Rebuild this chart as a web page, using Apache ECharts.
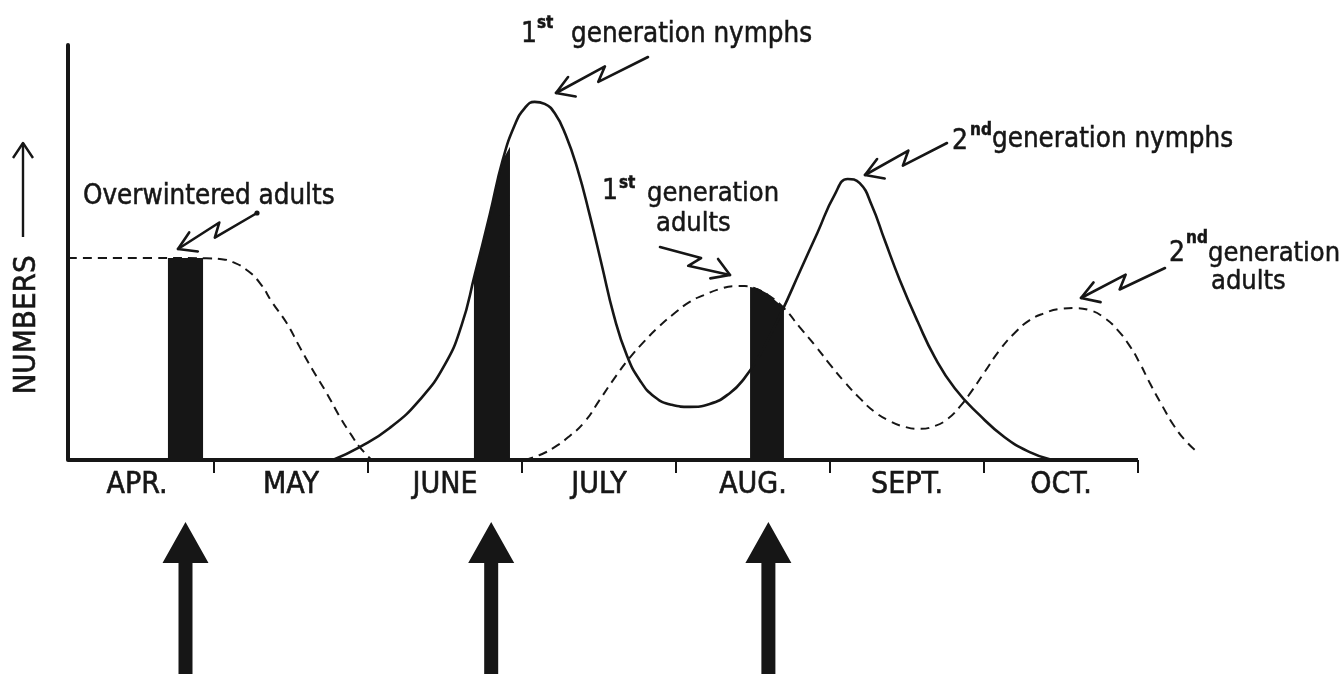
<!DOCTYPE html>
<html><head><meta charset="utf-8">
<script src="https://cdn.jsdelivr.net/npm/echarts@6/dist/echarts.min.js"></script>
<style>html,body{margin:0;padding:0;background:#fff}#c{width:1342px;height:674px}</style>
</head><body><div id="c"></div>
<script>
// ---- data (x in months counted from 1 April, y in relative numbers) ----
const months = ['APR.', 'MAY', 'JUNE', 'JULY', 'AUG.', 'SEPT.', 'OCT.'];
const monthBoundaries = [1, 2, 3, 4, 5, 6, 7];
const monthCentres = [0.5, 1.5, 2.5, 3.5, 4.5, 5.5, 6.5];
const overwinteredAdults = [[0.052,48.7],[0.6,48.7],[0.95,48.6],[1.050,48.4],[1.122,47.7],[1.212,45.8],[1.297,42.7],[1.381,37.8],[1.472,33.0],[1.557,27.2],[1.641,21.7],[1.732,16.1],[1.817,10.4],[1.901,5.5],[1.946,3.1],[2.024,0]];
const nymphs = [[1.771,0],[1.946,3.1],[2.141,7.7],[2.336,14.5],[2.498,22.9],[2.608,32.5],[2.693,44.6],[2.790,59.0],[2.875,72.3],[2.953,80.7],[3.018,84.8],[3.082,86.3],[3.147,85.8],[3.212,83.6],[3.284,78.3],[3.362,69.9],[3.440,59.0],[3.518,47.0],[3.596,34.9],[3.680,25.3],[3.764,19.3],[3.862,15.2],[3.972,13.3],[4.089,12.8],[4.219,13.5],[4.349,16.1],[4.446,19.8],[4.544,25.3],[4.686,35.7],[4.803,45.3],[4.920,54.9],[5.030,63.9],[5.115,67.7],[5.193,66.7],[5.271,61.4],[5.355,53.0],[5.453,43.4],[5.570,33.3],[5.680,24.8],[5.810,17.3],[5.972,10.8],[6.134,5.5],[6.297,1.9],[6.427,0.2]];
const adults = [[3.016,0],[3.115,1.2],[3.212,3.1],[3.310,5.8],[3.407,9.2],[3.505,14.5],[3.602,19.8],[3.699,24.6],[3.797,28.7],[3.894,32.3],[3.992,35.4],[4.089,38.1],[4.186,39.8],[4.284,41.2],[4.381,41.9],[4.446,41.9],[4.511,41.4],[4.608,39.5],[4.706,36.4],[4.803,32.0],[4.901,27.7],[4.998,23.1],[5.095,18.8],[5.193,14.9],[5.290,11.6],[5.388,9.4],[5.485,8.0],[5.583,7.5],[5.680,8.2],[5.764,9.9],[5.842,12.8],[5.920,16.6],[6.004,21.2],[6.102,26.5],[6.199,30.6],[6.297,33.7],[6.394,35.4],[6.491,36.4],[6.589,36.6],[6.686,36.1],[6.784,34.2],[6.868,31.3],[6.946,27.5],[7.011,23.4],[7.076,18.6],[7.154,13.3],[7.238,8.0],[7.322,4.1],[7.387,1.9]];
const sampleBar1 = [[0.701,48.7],[0.929,48.7]];
const sampleBar2 = [[2.688,44.2],[2.790,59.0],[2.875,72.3],[2.922,75.5]];
const sampleBar3 = [[4.481,41.7],[4.530,41.4],[4.591,40.2],[4.701,36.6]];
const sampleTimes = [0.815, 2.80, 4.60];
const baseline = [[0.052,0],[7.0,0]];

// ---- style / layout ----
const INK = '#161616';
const FONT = "'DejaVu Sans Condensed', 'DejaVu Sans', sans-serif";

const chart = echarts.init(document.getElementById('c'), null, {renderer: 'canvas'});

function barSeries(d) {
  return {type: 'line', data: d, smooth: false, showSymbol: false, clip: false, z: 2,
    lineStyle: {width: 0, opacity: 0}, areaStyle: {color: INK, opacity: 1}, silent: true};
}

chart.setOption({
  animation: false,
  backgroundColor: '#fff',
  grid: {left: 68, top: 45, width: 7.4 * 154, height: 415},
  xAxis: {
    type: 'value', min: 0.052, max: 7.452,
    axisLine: {show: false},
    splitLine: {show: false},
    axisTick: {show: true, customValues: monthBoundaries, length: 13, lineStyle: {color: INK, width: 2}},
    axisLabel: {show: true, customValues: monthCentres, margin: 10, hideOverlap: false,
      formatter: v => months[Math.round(v - 0.5)], color: INK, fontFamily: FONT, fontSize: 30,
      textBorderColor: INK, textBorderWidth: 0.6}
  },
  yAxis: {
    type: 'value', min: 0, max: 100,
    axisLine: {show: true, lineStyle: {color: INK, width: 4}},
    axisTick: {show: false}, axisLabel: {show: false}, splitLine: {show: false}
  },
  series: [
    barSeries(sampleBar1), barSeries(sampleBar2), barSeries(sampleBar3),
    {type: 'line', data: overwinteredAdults, smooth: 0.5, showSymbol: false, clip: false, z: 3,
      lineStyle: {color: INK, width: 2, type: [9, 6]}},
    {type: 'line', data: adults, smooth: 0.5, showSymbol: false, clip: false, z: 3,
      lineStyle: {color: INK, width: 2, type: [9, 6]}},
    {type: 'line', data: nymphs, smooth: 0.5, showSymbol: false, clip: false, z: 4,
      lineStyle: {color: INK, width: 2.6}},
    {type: 'line', data: baseline, showSymbol: false, clip: false, z: 5,
      lineStyle: {color: INK, width: 4}}
  ]
});

// ---- annotations (pixel layout) ----
const texts = [
  {t: 'Overwintered adults', x: 83, y: 196.6, s: 27.5},
  {t: '1', x: 529, y: 34.6, s: 28, a: 'center'},
  {t: 'st', x: 537, y: 23.2, s: 17},
  {t: 'generation nymphs', x: 571, y: 34.6, s: 27.5},
  {t: '1', x: 610, y: 191.6, s: 28, a: 'center'},
  {t: 'st', x: 619, y: 183.2, s: 17},
  {t: 'generation', x: 647, y: 193.6, s: 27},
  {t: 'adults', x: 656, y: 223.6, s: 27},
  {t: '2', x: 952, y: 141.6, s: 28},
  {t: 'nd', x: 970, y: 130.2, s: 17},
  {t: 'generation nymphs', x: 992, y: 139.6, s: 27.5},
  {t: '2', x: 1169, y: 253.6, s: 28},
  {t: 'nd', x: 1186, y: 238.2, s: 17},
  {t: 'generation', x: 1208, y: 253.6, s: 27},
  {t: 'adults', x: 1211, y: 281.6, s: 27}
];
const bolts = [
  {T: [257, 213], H: [178, 249], dot: true},
  {T: [648, 57], H: [556, 93]},
  {T: [660, 247], H: [730, 275]},
  {T: [947, 143], H: [865, 175]},
  {T: [1165, 268], H: [1081, 298]}
];

const g = [];
texts.forEach(o => g.push({type: 'text', x: o.x, y: o.y, z: 10, style: {
  text: o.t, fill: INK, stroke: INK, lineWidth: 0.5, font: (o.s < 20 ? 'bold ' : '') + o.s + 'px ' + FONT,
  textAlign: o.a || 'left', textVerticalAlign: 'middle'}}));

bolts.forEach(b => {
  const dx = b.H[0] - b.T[0], dy = b.H[1] - b.T[1], L = Math.hypot(dx, dy);
  const ux = dx / L, uy = dy / L, px = -uy, py = ux;
  const p = (t, o) => [b.T[0] + ux * t * L + px * o, b.T[1] + uy * t * L + py * o];
  g.push({type: 'polyline', z: 10, shape: {points: [b.T, p(0.56, -5), p(0.44, 7), b.H]},
    style: {stroke: INK, lineWidth: 2.6, fill: null, lineJoin: 'round', lineCap: 'round'}});
  const wing = ang => {
    const c = Math.cos(ang), s = Math.sin(ang), bx = -ux, by = -uy;
    return [b.H[0] + (bx * c - by * s) * 20, b.H[1] + (bx * s + by * c) * 20];
  };
  g.push({type: 'polyline', z: 10, shape: {points: [wing(0.55), b.H, wing(-0.55)]},
    style: {stroke: INK, lineWidth: 2.6, fill: null, lineJoin: 'round', lineCap: 'round'}});
  if (b.dot) g.push({type: 'circle', z: 10, shape: {cx: b.T[0], cy: b.T[1], r: 2.6}, style: {fill: INK}});
});

// y-axis title and arrow
g.push({type: 'text', x: 27, y: 325, rotation: Math.PI / 2, z: 10, style: {
  text: 'NUMBERS', fill: INK, stroke: INK, lineWidth: 0.6, font: '31px ' + FONT,
  textAlign: 'center', textVerticalAlign: 'middle'}});
g.push({type: 'line', z: 10, shape: {x1: 23, y1: 237, x2: 23, y2: 143}, style: {stroke: INK, lineWidth: 2.4}});
g.push({type: 'polyline', z: 10, shape: {points: [[13, 158], [23, 143], [33, 158]]},
  style: {stroke: INK, lineWidth: 2.4, fill: null, lineJoin: 'round'}});

// big sampling arrows under the chart, aligned on the sampling dates
sampleTimes.forEach(m => {
  const cx = chart.convertToPixel({gridIndex: 0}, [m, 0])[0];
  g.push({type: 'polygon', z: 10, shape: {points: [
    [cx, 522], [cx + 23, 563], [cx + 7, 563], [cx + 7, 674], [cx - 7, 674], [cx - 7, 563], [cx - 23, 563]]},
    style: {fill: INK}});
});

chart.setOption({graphic: g});
</script></body></html>
